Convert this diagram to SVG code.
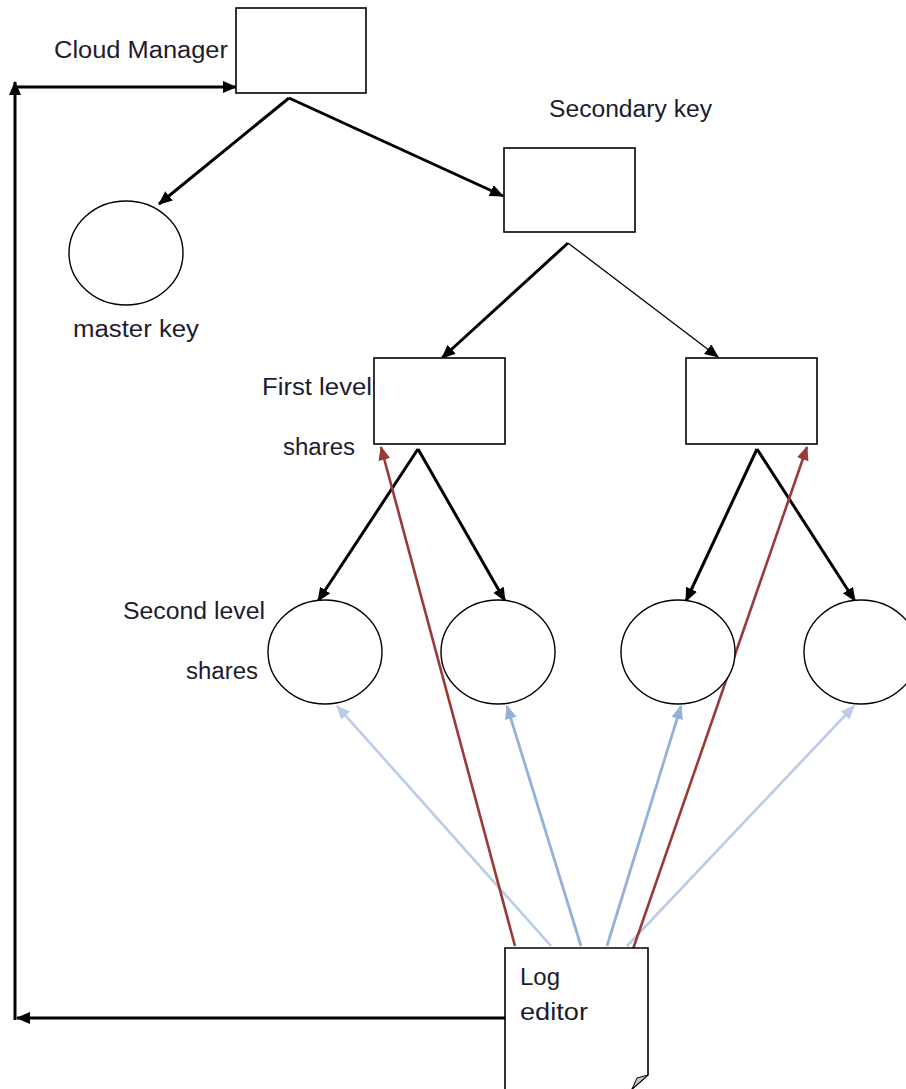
<svg xmlns="http://www.w3.org/2000/svg" width="906" height="1089" viewBox="0 0 906 1089">
<style>
.box{fill:#fff;stroke:#000;stroke-width:1.6}
.circ{fill:#fff;stroke:#000;stroke-width:1.4}
.lbl{font-family:"Liberation Sans",Arial,sans-serif;font-size:23px;fill:#1c1c2e}
.blk{fill:none;stroke:#000;stroke-width:3}
.thin{fill:none;stroke:#000;stroke-width:1.3}
.red{fill:none;stroke:#9a3a36;stroke-width:2.6}
.lb{fill:none;stroke:#b9cde6;stroke-width:2.6}
.mb{fill:none;stroke:#94b2d8;stroke-width:2.8}
</style>
<defs>
<marker id="ak" markerUnits="userSpaceOnUse" markerWidth="16" markerHeight="14" refX="13" refY="6" orient="auto"><path d="M0,0 L14,6 L0,12 Z" fill="#000"/></marker>
<marker id="ar" markerUnits="userSpaceOnUse" markerWidth="16" markerHeight="14" refX="13" refY="6" orient="auto"><path d="M0,0 L14,6 L0,12 Z" fill="#9a3a36"/></marker>
<marker id="al" markerUnits="userSpaceOnUse" markerWidth="16" markerHeight="14" refX="13" refY="6" orient="auto"><path d="M0,0 L14,6 L0,12 Z" fill="#b9cde6"/></marker>
<marker id="am" markerUnits="userSpaceOnUse" markerWidth="16" markerHeight="14" refX="13" refY="6" orient="auto"><path d="M0,0 L14,6 L0,12 Z" fill="#94b2d8"/></marker>
</defs>
<rect width="906" height="1089" fill="#fff"/>
<g id="connectors">
<path class="blk" d="M505,1018 H17" marker-end="url(#ak)"/>
<path class="blk" d="M15,1020 V82" marker-end="url(#ak)"/>
<path class="blk" d="M15,87 H236" marker-end="url(#ak)"/>
<path class="blk" d="M289,98 L159,204" marker-end="url(#ak)"/>
<path class="blk" d="M289,98 L503,196" marker-end="url(#ak)"/>
<path class="blk" d="M568,243 L442,358" marker-end="url(#ak)"/>
<path class="thin" d="M568,243 L718,357" marker-end="url(#ak)"/>
<path class="blk" d="M418,449 L318,601" marker-end="url(#ak)"/>
<path class="blk" d="M418,449 L505,601" marker-end="url(#ak)"/>
<path class="blk" d="M757,449 L686,601" marker-end="url(#ak)"/>
<path class="blk" d="M757,449 L855,601" marker-end="url(#ak)"/>
<path class="lb" d="M551,946 L337,706" marker-end="url(#al)"/>
<path class="mb" d="M581,946 L507,706" marker-end="url(#am)"/>
<path class="mb" d="M607,946 L681,706" marker-end="url(#am)"/>
<path class="lb" d="M627,946 L854,706" marker-end="url(#al)"/>
<path class="red" d="M515,946 L381,447" marker-end="url(#ar)"/>
<path class="red" d="M632,952 L807,447" marker-end="url(#ar)"/>
</g>
<g id="cloud-manager">
<rect class="box" x="236" y="8" width="130" height="85"/>
<text class="lbl" x="54" y="58" textLength="174" lengthAdjust="spacingAndGlyphs">Cloud Manager</text>
</g>
<g id="master-key">
<ellipse class="circ" cx="126" cy="253" rx="57" ry="52"/>
<text class="lbl" x="73" y="337" textLength="126" lengthAdjust="spacingAndGlyphs">master key</text>
</g>
<g id="secondary-key">
<rect class="box" x="504" y="148" width="131" height="84"/>
<text class="lbl" x="549" y="117" textLength="163" lengthAdjust="spacingAndGlyphs">Secondary key</text>
</g>
<g id="first-level-1">
<rect class="box" x="374" y="358" width="131" height="86"/>
<text class="lbl" x="262" y="395" textLength="110" lengthAdjust="spacingAndGlyphs">First level</text>
<text class="lbl" x="283" y="455" textLength="72" lengthAdjust="spacingAndGlyphs">shares</text>
</g>
<g id="first-level-2">
<rect class="box" x="686" y="358" width="131" height="86"/>
</g>
<g id="second-level-1">
<ellipse class="circ" cx="325" cy="652" rx="57" ry="52"/>
<text class="lbl" x="123" y="619" textLength="142" lengthAdjust="spacingAndGlyphs">Second level</text>
<text class="lbl" x="186" y="679" textLength="72" lengthAdjust="spacingAndGlyphs">shares</text>
</g>
<g id="second-level-2"><ellipse class="circ" cx="498" cy="652" rx="57" ry="52"/></g>
<g id="second-level-3"><ellipse class="circ" cx="678" cy="652" rx="57" ry="52"/></g>
<g id="second-level-4"><ellipse class="circ" cx="861" cy="652" rx="57" ry="52"/></g>
<g id="log-editor">
<path d="M505,1089 V948 H648 V1075 L632,1089" fill="#fff" stroke="#000" stroke-width="1.6"/>
<polygon points="648,1075 637,1078 632,1089" fill="#c4c4c4" stroke="#000" stroke-width="1"/>
<text class="lbl" x="520" y="985" textLength="40" lengthAdjust="spacingAndGlyphs">Log</text>
<text class="lbl" x="520" y="1020" textLength="68" lengthAdjust="spacingAndGlyphs">editor</text>
</g>
</svg>
